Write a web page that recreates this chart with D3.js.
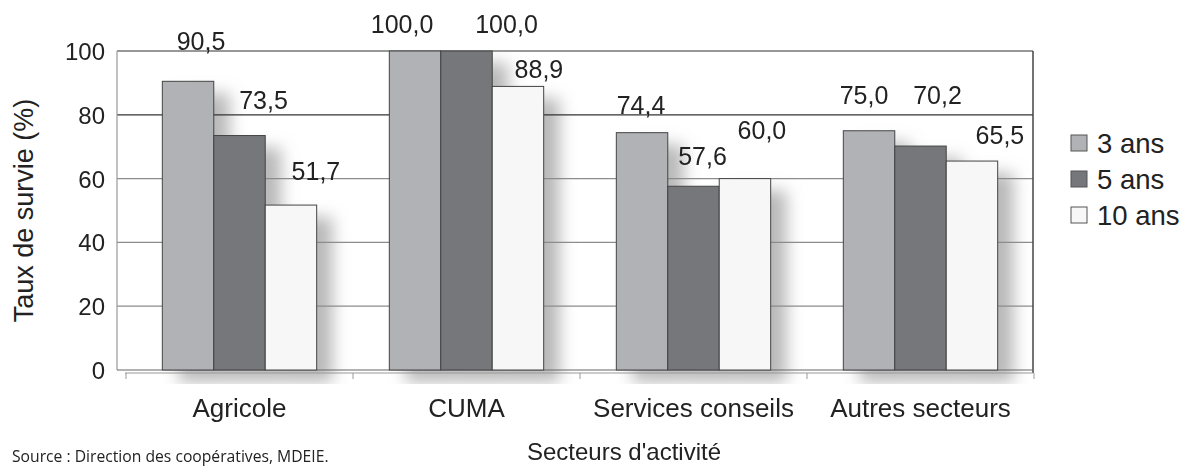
<!DOCTYPE html>
<html>
<head>
<meta charset="utf-8">
<script src="https://cdn.jsdelivr.net/npm/d3@7"></script>
<style>
  html, body { margin: 0; padding: 0; background: #fff; }
  svg { display: block; }
  text { font-family: "Liberation Sans", Arial, sans-serif; fill: #222; }
</style>
</head>
<body>
<svg id="chart" width="1194" height="466"></svg>
<script>
// ---- data ----
const categories = ["Agricole", "CUMA", "Services conseils", "Autres secteurs"];
const seriesNames = ["3 ans", "5 ans", "10 ans"];
const values3ans = [90.5, 100.0, 74.4, 75.0];
const values5ans = [73.5, 100.0, 57.6, 70.2];
const values10ans = [51.7, 88.9, 60.0, 65.5];
const valueLabels3ans = ["90,5", "100,0", "74,4", "75,0"];
const valueLabels5ans = ["73,5", "100,0", "57,6", "70,2"];
const valueLabels10ans = ["51,7", "88,9", "60,0", "65,5"];
const yTicks = [0, 20, 40, 60, 80, 100];
const yTitle = "Taux de survie (%)";
const xTitle = "Secteurs d'activité";
const sourceText = "Source : Direction des coopératives, MDEIE.";

// ---- styling ----
const colors = ["#b1b2b6", "#76777b", "#f7f7f7"];
// label nudges relative to bar top-centre (category x series)
const labelNudge = [
  [[13, -40], [24, -36], [25, -34]],
  [[-13, -27], [40, -27], [21, -17]],
  [[-1, -28], [9, -30], [17, -49]],
  [[-5, -36], [17, -51], [28, -26]]
];

const seriesValues = [values3ans, values5ans, values10ans];
const seriesLabels = [valueLabels3ans, valueLabels5ans, valueLabels10ans];

const svg = d3.select("#chart");
const plot = { left: 117, right: 1033, top: 51, bottom: 370 };

const y = d3.scaleLinear().domain([0, 100]).range([plot.bottom, plot.top]);
const x0 = d3.scaleBand().domain(categories).range([126, 1034]).paddingInner(0.32).paddingOuter(0.16);
const x1 = d3.scaleBand().domain(seriesNames).range([0, x0.bandwidth()]);

const bars = [];
categories.forEach((c, ci) => {
  seriesNames.forEach((s, si) => {
    bars.push({ c, ci, s, si, v: seriesValues[si][ci], label: seriesLabels[si][ci] });
  });
});

// defs: blur filter for shadows
const defs = svg.append("defs");
const f = defs.append("filter").attr("id", "shadowBlur").attr("x", "-50%").attr("y", "-50%").attr("width", "200%").attr("height", "200%");
f.append("feGaussianBlur").attr("stdDeviation", 8);
defs.append("clipPath").attr("id", "shadowClip")
  .append("rect").attr("x", plot.left).attr("y", plot.top).attr("width", plot.right - plot.left).attr("height", plot.bottom - plot.top + 14);

// shadows
svg.append("g").attr("clip-path", "url(#shadowClip)")
  .append("g").attr("filter", "url(#shadowBlur)")
  .selectAll("rect").data(bars).join("rect")
  .attr("x", d => x0(d.c) + x1(d.s) + 16)
  .attr("y", d => y(d.v) + 12)
  .attr("width", x1.bandwidth())
  .attr("height", d => y(0) - y(d.v))
  .attr("fill", "#8a8a8a")
  .attr("opacity", 0.6);

// gridlines
svg.append("g").selectAll("line").data(yTicks.filter(t => t > 0)).join("line")
  .attr("x1", plot.left).attr("x2", plot.right)
  .attr("y1", d => y(d)).attr("y2", d => y(d))
  .attr("stroke", d => d >= 80 ? "#333" : "#8c8c8c")
  .attr("stroke-width", 1.2);

// plot borders
svg.append("line").attr("x1", plot.left).attr("x2", plot.left).attr("y1", plot.top).attr("y2", plot.bottom)
  .attr("stroke", "#999").attr("stroke-width", 1.2);
svg.append("line").attr("x1", plot.right).attr("x2", plot.right).attr("y1", plot.top).attr("y2", plot.bottom + 3)
  .attr("stroke", "#444").attr("stroke-width", 1.5);
svg.append("line").attr("x1", plot.left).attr("x2", plot.right).attr("y1", plot.bottom).attr("y2", plot.bottom)
  .attr("stroke", "#666").attr("stroke-width", 1.2);

// bars
svg.append("g").selectAll("rect").data(bars).join("rect")
  .attr("x", d => x0(d.c) + x1(d.s))
  .attr("y", d => y(d.v))
  .attr("width", x1.bandwidth())
  .attr("height", d => y(0) - y(d.v))
  .attr("fill", d => colors[d.si])
  .attr("stroke", "#444")
  .attr("stroke-width", 1);

// x axis (category axis slightly below floor)
const xAxisY = plot.bottom + 3;
svg.append("line").attr("x1", 125).attr("x2", plot.right).attr("y1", xAxisY).attr("y2", xAxisY)
  .attr("stroke", "#999").attr("stroke-width", 1);
const tickXs = categories.map(c => x0(c) - x0.step() * x0.paddingInner() / 2);
tickXs.push(x0(categories[categories.length - 1]) + x0.bandwidth() + x0.step() * x0.paddingInner() / 2);
svg.append("g").selectAll("line").data(tickXs).join("line")
  .attr("x1", d => d).attr("x2", d => d).attr("y1", xAxisY).attr("y2", xAxisY + 6)
  .attr("stroke", "#999");

// category labels
svg.append("g").selectAll("text").data(categories).join("text")
  .attr("x", d => x0(d) + x0.bandwidth() / 2)
  .attr("y", 417)
  .attr("text-anchor", "middle")
  .attr("font-size", 26)
  .text(d => d);

// y tick labels
svg.append("g").selectAll("text").data(yTicks).join("text")
  .attr("x", 105)
  .attr("y", d => y(d) + 9)
  .attr("text-anchor", "end")
  .attr("font-size", 24)
  .text(d => d);

// y title
svg.append("text")
  .attr("transform", `translate(33, ${(plot.top + plot.bottom) / 2}) rotate(-90)`)
  .attr("text-anchor", "middle")
  .attr("font-size", 27)
  .text(yTitle);

// x title
svg.append("text")
  .attr("x", 624).attr("y", 460)
  .attr("text-anchor", "middle")
  .attr("font-size", 24)
  .text(xTitle);

// source
svg.append("text")
  .attr("x", 12).attr("y", 462)
  .style("font-family", "'Open Sans', 'Noto Sans', sans-serif")
  .attr("font-size", 15.7)
  .text(sourceText);

// value labels
svg.append("g").selectAll("text").data(bars).join("text")
  .attr("x", d => x0(d.c) + x1(d.s) + x1.bandwidth() / 2 + labelNudge[d.ci][d.si][0])
  .attr("y", d => y(d.v) + labelNudge[d.ci][d.si][1] + 9)
  .attr("text-anchor", "middle")
  .attr("font-size", 25)
  .text(d => d.label);

// legend
const legend = svg.append("g").attr("transform", "translate(1071, 143)");
const li = legend.selectAll("g").data(seriesNames).join("g")
  .attr("transform", (d, i) => `translate(0, ${i * 36})`);
li.append("rect").attr("x", 0).attr("y", -8).attr("width", 16).attr("height", 16)
  .attr("fill", (d, i) => colors[i]).attr("stroke", "#555").attr("stroke-width", 1);
li.append("text").attr("x", 26).attr("y", 10).attr("font-size", 27.5).text(d => d);
</script>
</body>
</html>
